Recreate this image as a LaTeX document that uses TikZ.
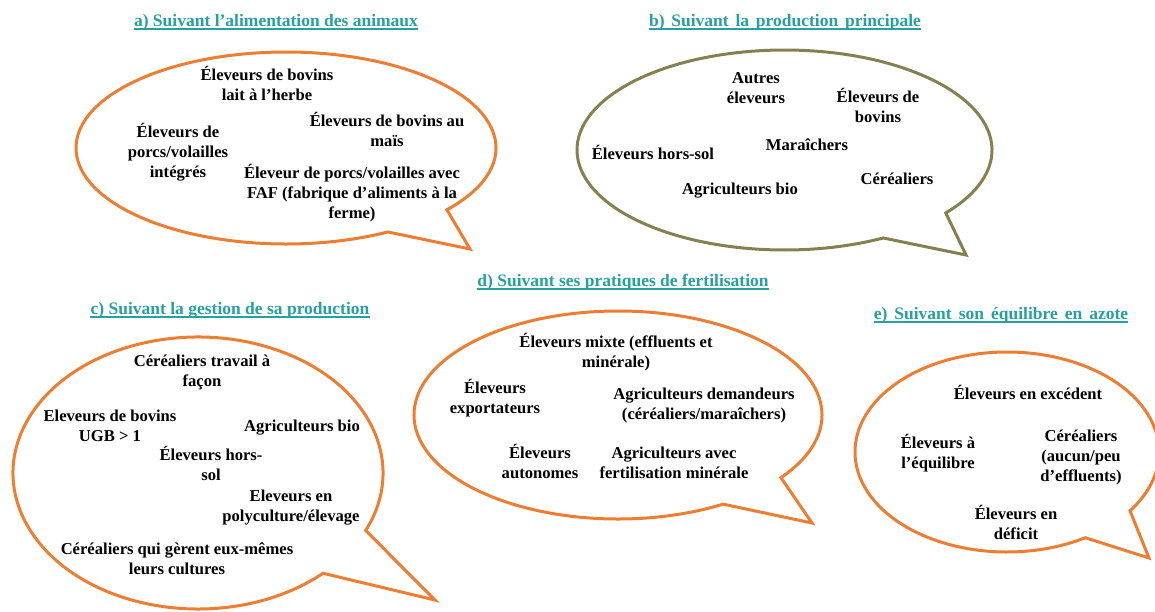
\documentclass[tikz,border=0pt]{standalone}
\usepackage{fontspec}
\setmainfont{Liberation Serif}
\definecolor{borange}{RGB}{237,125,49}
\definecolor{bolive}{RGB}{134,128,80}
\definecolor{tteal}{RGB}{38,160,160}
\begin{document}
\begin{tikzpicture}[x=1pt,y=1pt,
  lbl/.style={font=\fontsize{16.6}{20}\selectfont\bfseries, align=center, inner sep=0pt},
  ttl/.style={font=\fontsize{17.5}{20}\selectfont\bfseries, text=tteal, inner sep=0pt},
  uline/.style={draw=tteal, line width=1.3pt},
  bubble/.style={line width=3pt, line join=miter, miter limit=20}]
\useasboundingbox (0,0) rectangle (1155,-611);
% titles
\node[ttl] (ta) at (276,-22) {a) Suivant l’alimentation des animaux};
\node[ttl] (tb) at (785,-22) {\spaceskip=6.8pt b) Suivant la production principale};
\node[ttl] (tc) at (230,-310) {c) Suivant la gestion de sa production};
\node[ttl] (td) at (623,-282) {d) Suivant ses pratiques de fertilisation};
\node[ttl] (te) at (1001,-315) {\spaceskip=7pt e) Suivant son équilibre en azote};
\foreach \t in {ta,tb,tc,td,te}
  \draw[uline] ([yshift=-2.8pt]\t.base west) -- ([yshift=-2.8pt]\t.base east);
% bubble a
\coordinate (ca) at (286,-148);
\coordinate (tipa) at (470,-249);
\draw[bubble, borange] (ca) ++(-40:210 and 96) arc[start angle=-40, end angle=299, x radius=210, y radius=96] -- (tipa) -- cycle;
% bubble b
\coordinate (cb) at (784.5,-150);
\coordinate (tipb) at (966,-255);
\draw[bubble, bolive] (cb) ++(-39:207.5 and 100) arc[start angle=-39, end angle=298.4, x radius=207.5, y radius=100] -- (tipb) -- cycle;
% bubble c
\coordinate (cc) at (198,-473);
\coordinate (tipc) at (435,-600);
\draw[bubble, borange] (cc) ++(-25:185 and 136) arc[start angle=-25, end angle=312.5, x radius=185, y radius=136] -- (tipc) -- cycle;
% bubble d
\coordinate (cd) at (618,-415);
\coordinate (tipd) at (812,-523);
\draw[bubble, borange] (cd) ++(-37:204 and 104) arc[start angle=-37, end angle=301, x radius=204, y radius=104] -- (tipd) -- cycle;
% bubble e
\coordinate (ce) at (1007,-452);
\coordinate (tipe) at (1149,-558);
\draw[bubble, borange] (ce) ++(-36:152 and 100) arc[start angle=-36, end angle=301, x radius=152, y radius=100] -- (tipe) -- cycle;
% texts a
\node[lbl] (a1) at (267,-83) {Éleveurs de bovins\\lait à l’herbe};
\node[lbl] (a2) at (178,-152) {Éleveurs de\\porcs/volailles\\intégrés};
\node[lbl] (a3) at (387,-129) {Éleveurs de bovins au\\maïs};
\node[lbl] (a4) at (352,-193) {Éleveur de porcs/volailles avec\\FAF (fabrique d’aliments à la\\ferme)};
% texts b
\node[lbl] (b1) at (756,-88) {Autres\\éleveurs};
\node[lbl] (b2) at (878,-105) {Éleveurs de\\bovins};
\node[lbl] (b3) at (653,-152) {Éleveurs hors-sol};
\node[lbl] (b4) at (807,-145) {Maraîchers};
\node[lbl] (b5) at (897,-179) {Céréaliers};
\node[lbl] (b6) at (740,-191) {Agriculteurs bio};
% texts c
\node[lbl] (c1) at (202,-372) {Céréaliers travail à\\façon};
\node[lbl] (c2) at (110,-426) {Eleveurs de bovins\\UGB > 1};
\node[lbl] (c3) at (302,-428) {Agriculteurs bio};
\node[lbl] (c4) at (211,-463) {Éleveurs hors-\\sol};
\node[lbl] (c5) at (291,-508) {Eleveurs en\\polyculture/élevage};
\node[lbl] (c6) at (177,-559) {Céréaliers qui gèrent eux-mêmes\\leurs cultures};
% texts d
\node[lbl] (d1) at (616,-352) {Éleveurs mixte (effluents et\\minérale)};
\node[lbl] (d2) at (495,-398) {Éleveurs\\exportateurs};
\node[lbl] (d3) at (704,-405) {Agriculteurs demandeurs\\(céréaliers/maraîchers)};
\node[lbl] (d4) at (540,-461) {Éleveurs\\autonomes};
\node[lbl] (d5) at (674,-463) {Agriculteurs avec\\fertilisation minérale};
% texts e
\node[lbl] (e1) at (1028,-392) {Éleveurs en excédent};
\node[lbl] (e2) at (938,-453) {Éleveurs à\\l’équilibre};
\node[lbl] (e3) at (1081,-457) {Céréaliers\\(aucun/peu\\d’effluents)};
\node[lbl] (e4) at (1016,-522) {Éleveurs en\\déficit};
\end{tikzpicture}
\end{document}
